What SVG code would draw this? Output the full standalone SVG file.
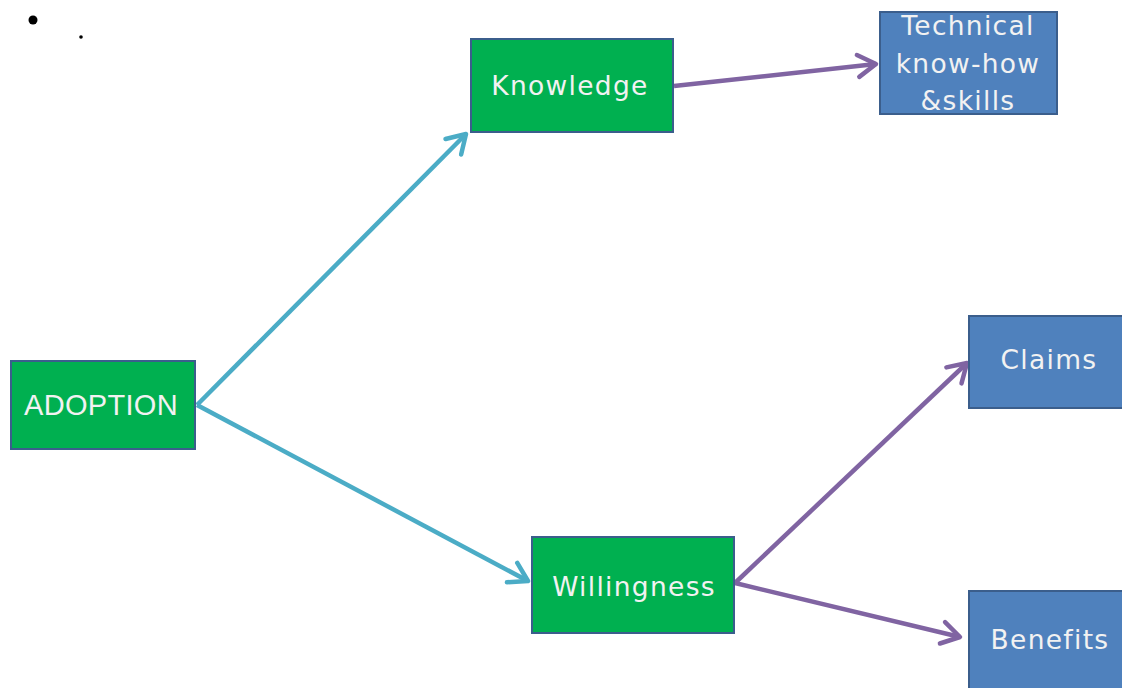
<svg xmlns="http://www.w3.org/2000/svg" width="1122" height="688" viewBox="0 0 1122 688">
<style>
.g{fill:#00B050;stroke:#3B5E8C;stroke-width:2}
.b{fill:#4F81BD;stroke:#3B5E8C;stroke-width:2}
.t{fill:#F2F2F2;font-family:"DejaVu Sans",sans-serif;font-size:26.5px;letter-spacing:1.3px;text-anchor:middle}
.a{font-family:"Liberation Sans",Arial,sans-serif;font-size:29px;letter-spacing:0.3px}
.c{stroke:#4BACC6;stroke-width:4.5;fill:none}
.p{stroke:#8064A2;stroke-width:4.5;fill:none}
</style>
<defs>
<marker id="mc" markerUnits="userSpaceOnUse" markerWidth="30" markerHeight="30" viewBox="-22 -15 26 30" refX="0" refY="0" orient="auto">
<path d="M-18,-11 L0,0 L-18,11" fill="none" stroke="#4BACC6" stroke-width="4.5" stroke-linecap="round" stroke-linejoin="round"/>
</marker>
<marker id="mp" markerUnits="userSpaceOnUse" markerWidth="30" markerHeight="30" viewBox="-22 -15 26 30" refX="0" refY="0" orient="auto">
<path d="M-18,-11 L0,0 L-18,11" fill="none" stroke="#8064A2" stroke-width="4.5" stroke-linecap="round" stroke-linejoin="round"/>
</marker>
</defs>
<circle cx="33" cy="20" r="4.5" fill="#000"/>
<circle cx="81" cy="37" r="1.8" fill="#000"/>
<g id="connectors">
<line class="c" x1="197" y1="405" x2="466" y2="134" marker-end="url(#mc)"/>
<line class="c" x1="197" y1="405" x2="528" y2="581" marker-end="url(#mc)"/>
<line class="p" x1="674" y1="86" x2="876" y2="64" marker-end="url(#mp)"/>
<line class="p" x1="735" y1="583" x2="967" y2="363" marker-end="url(#mp)"/>
<line class="p" x1="735" y1="583" x2="960" y2="637" marker-end="url(#mp)"/>
</g>
<g id="adoption">
<rect class="g" x="11" y="361" width="184" height="88"/>
<text class="t a" x="101" y="415">ADOPTION</text>
</g>
<g id="knowledge">
<rect class="g" x="471" y="39" width="202" height="93"/>
<text class="t" x="570" y="95">Knowledge</text>
</g>
<g id="willingness">
<rect class="g" x="532" y="537" width="202" height="96"/>
<text class="t" x="634" y="596">Willingness</text>
</g>
<g id="technical">
<rect class="b" x="880" y="12" width="177" height="102"/>
<text class="t" x="968" y="35">Technical</text>
<text class="t" x="968" y="73">know-how</text>
<text class="t" x="968" y="110">&amp;skills</text>
</g>
<g id="claims">
<rect class="b" x="969" y="316" width="160" height="92"/>
<text class="t" x="1049" y="369">Claims</text>
</g>
<g id="benefits">
<rect class="b" x="969" y="591" width="160" height="100"/>
<text class="t" x="1050" y="649">Benefits</text>
</g>
</svg>
